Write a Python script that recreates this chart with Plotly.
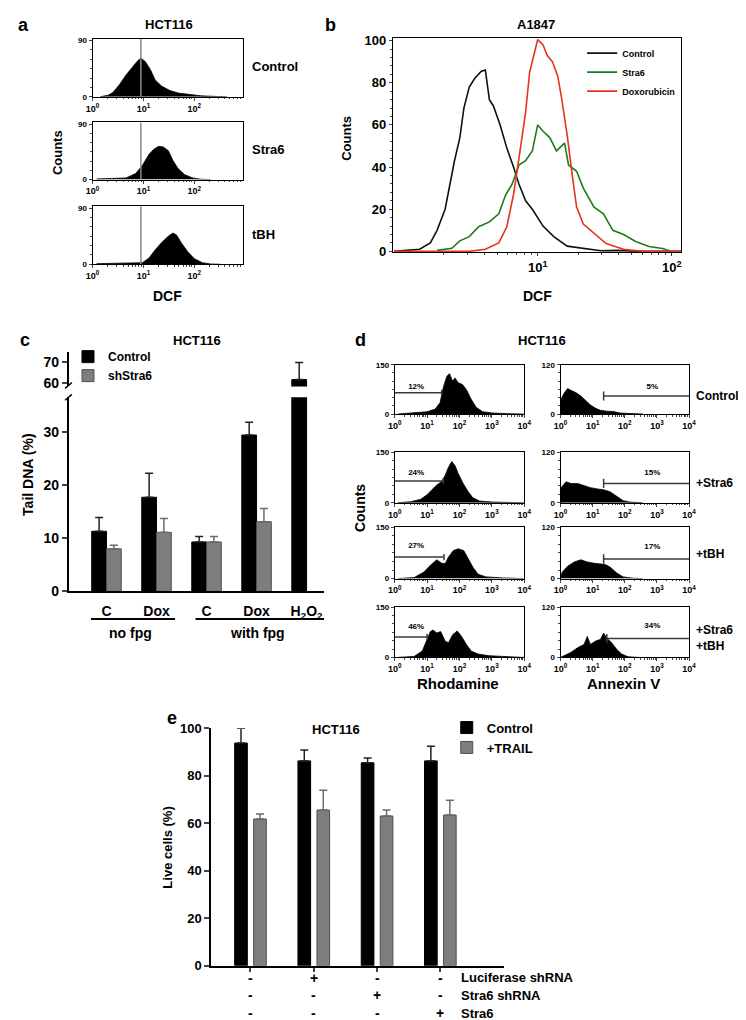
import plotly.graph_objects as go

W, H = 746, 1020
FONT = "Liberation Sans"

# ---------------- DATA ----------------
# Panel a (HCT116, DCF histograms): log10(DCF) and counts
a_ctrl_logdcf = [0.15, 0.31, 0.40, 0.53, 0.66, 0.79, 0.88, 0.95, 1.04, 1.14, 1.23, 1.36, 1.52, 1.68, 1.87, 2.13, 2.45, 2.64]
a_ctrl_counts = [0, 2.6, 6.7, 19.5, 35, 48, 57, 62, 56, 43, 27, 17, 10, 6, 3.6, 1.5, 0.5, 0]
a_stra6_logdcf = [0.08, 0.66, 0.85, 0.98, 1.11, 1.20, 1.30, 1.39, 1.49, 1.58, 1.68, 1.81, 1.97, 2.13, 2.32]
a_stra6_counts = [1, 2.6, 10, 23, 41, 49, 54, 53, 47, 31, 18, 8, 2.6, 0.5, 0]
a_tbh_logdcf = [0.08, 0.98, 1.11, 1.23, 1.36, 1.49, 1.58, 1.65, 1.74, 1.87, 2.00, 2.16, 2.32, 2.51]
a_tbh_counts = [1, 2.5, 10, 23, 35, 45, 50, 47, 35, 20, 9, 2.5, 0.5, 0]
a_gate_logdcf = 0.95
a_row_labels = ["Control", "Stra6", "tBH"]
a_xtick_vals = [1, 10, 100]
a_xtick_text = ["10<sup>0</sup>", "10<sup>1</sup>", "10<sup>2</sup>"]

# Panel b (A1847, DCF overlay)
b_names = ["Control", "Stra6", "Doxorubicin"]
b_ctrl_logdcf = [-0.07, 0.05, 0.12, 0.20, 0.25, 0.31, 0.34, 0.38, 0.42, 0.45, 0.49, 0.53, 0.58, 0.61, 0.64, 0.67, 0.72, 0.77, 0.82, 0.86, 0.91, 0.96, 1.04, 1.12, 1.22, 1.34, 1.47, 1.59, 1.78, 2.07]
b_ctrl_counts = [0, 0.5, 1, 4, 10, 20, 30, 43, 54, 68, 78, 82, 85.5, 86, 72, 69, 60, 49, 40, 32, 24, 20, 12, 7, 2.5, 1.5, 0.3, 0.5, 0, 0]
b_stra6_logdcf = [0.25, 0.36, 0.42, 0.49, 0.56, 0.64, 0.71, 0.76, 0.81, 0.86, 0.91, 0.96, 1.00, 1.04, 1.09, 1.14, 1.20, 1.23, 1.29, 1.34, 1.42, 1.49, 1.56, 1.64, 1.73, 1.83, 1.93, 2.00]
b_stra6_counts = [0.5, 1.5, 5, 7, 11.7, 14, 17.8, 26.6, 32, 41, 43, 47.7, 60, 57, 54, 47.7, 51.4, 41, 38, 30, 21, 17.8, 10, 8, 4.7, 2.3, 1.4, 0]
b_dox_logdcf = [-0.07, 0.49, 0.61, 0.71, 0.77, 0.82, 0.86, 0.91, 0.94, 0.98, 1.00, 1.04, 1.07, 1.11, 1.15, 1.18, 1.22, 1.26, 1.29, 1.34, 1.42, 1.51, 1.64, 1.78, 2.07]
b_dox_counts = [0, 0, 1, 4, 11.7, 27, 44, 66, 85, 96, 100.5, 98, 93, 90, 83, 72, 55, 35, 21, 13, 8.4, 3.7, 1, 0, 0]
b_colors = ["#111111", "#1d7a1d", "#e2341f"]

# Panel c (HCT116, comet assay)
c_ids = ["C_nofpg", "Dox_nofpg", "C_fpg", "Dox_fpg", "H2O2_fpg"]
c_ticktext = ["C", "Dox", "C", "Dox", "H<sub>2</sub>O<sub>2</sub>"]
c_control = [11.3, 17.7, 9.3, 29.4, 61.5]
c_control_err = [2.6, 4.5, 1.0, 2.4, 8.5]
c_shstra6 = [8.0, 11.1, 9.3, 13.1, None]
c_shstra6_err = [0.7, 2.6, 1.0, 2.5, None]
c_series = ["Control", "shStra6"]

# Panel d (HCT116, Rhodamine / Annexin V histograms)
d_rows = ["Control", "+Stra6", "+tBH", "+Stra6<br>+tBH"]
d_rho_log = [
    [0.09, 0.49, 1.0, 1.25, 1.40, 1.51, 1.61, 1.69, 1.79, 1.86, 1.96, 2.09, 2.21, 2.36, 2.52, 2.72, 3.02, 3.53, 3.98],
    [0.09, 0.49, 0.8, 1.0, 1.15, 1.30, 1.45, 1.56, 1.66, 1.76, 1.86, 1.96, 2.11, 2.26, 2.41, 2.62, 3.02, 3.98],
    [0.09, 0.6, 0.9, 1.1, 1.30, 1.45, 1.56, 1.66, 1.81, 1.96, 2.13, 2.26, 2.41, 2.57, 2.82, 3.32, 3.98],
    [0.09, 0.6, 0.85, 1.0, 1.1, 1.18, 1.30, 1.42, 1.56, 1.66, 1.79, 1.93, 2.06, 2.21, 2.36, 2.57, 2.92, 3.53, 3.98],
]
d_rho_counts = [
    [0, 3, 7, 15, 35, 85, 115, 123, 100, 110, 95, 90, 75, 45, 20, 7, 3, 1, 0],
    [0, 3, 10, 24, 39, 53, 63, 82, 106, 123, 111, 87, 58, 34, 15, 5, 2, 0],
    [0, 3, 19, 39, 55, 45, 44, 63, 82, 87, 82, 58, 34, 13, 5, 2, 0],
    [0, 3, 19, 53, 77, 82, 73, 77, 48, 44, 68, 79, 63, 39, 19, 10, 5, 2, 0],
]
d_ann_log = [
    [0.0, 0.01, 0.12, 0.22, 0.32, 0.48, 0.63, 0.78, 0.93, 1.09, 1.24, 1.44, 1.64, 1.85, 2.15, 2.56],
    [0.0, 0.01, 0.17, 0.32, 0.53, 0.73, 0.93, 1.14, 1.34, 1.54, 1.75, 1.95, 2.15, 2.56],
    [0.0, 0.05, 0.22, 0.43, 0.63, 0.83, 1.04, 1.24, 1.39, 1.54, 1.75, 1.95, 2.25, 2.56],
    [0.0, 0.12, 0.32, 0.53, 0.73, 0.83, 0.93, 1.09, 1.24, 1.34, 1.44, 1.59, 1.75, 1.90, 2.10, 2.45],
]
d_ann_counts = [
    [0, 36, 52, 62, 58, 52, 44, 32, 22, 14, 9, 7, 6, 2.4, 0.8, 0],
    [0, 35, 50, 46, 46, 41, 36, 33, 31, 26, 15, 5, 1.5, 0],
    [0, 15, 29, 39, 44, 39, 36, 35, 33, 27, 13, 4, 1, 0],
    [0, 4, 12, 23, 31, 50, 31, 39, 43, 58, 46, 35, 19, 8, 1.5, 0],
]
d_rho_gate_end_log = [1.45, 1.50, 1.52, 1.0]
d_rho_gate_level = [65, 65, 63, 61]
d_rho_pct = ["12%", "24%", "27%", "46%"]
d_rho_pct_level = [83, 90, 94, 92]
d_ann_gate_start_log = [1.34, 1.34, 1.34, 1.44]
d_ann_gate_level = [44, 46, 46, 45]
d_ann_pct = ["5%", "15%", "17%", "34%"]
d_ann_pct_level = [66, 72, 75, 76]
d_xtick_vals = [1, 10, 100, 1000, 10000]
d_xtick_text = ["10<sup>0</sup>", "10<sup>1</sup>", "10<sup>2</sup>", "10<sup>3</sup>", "10<sup>4</sup>"]

# Panel e (HCT116, live cells)
e_ids = ["g1", "g2", "g3", "g4"]
e_control = [93.8, 86.3, 85.5, 86.3]
e_control_err = [6.2, 4.6, 2.0, 6.2]
e_trail = [61.8, 65.6, 63.1, 63.5]
e_trail_err = [2.1, 8.3, 2.5, 6.2]
e_luciferase = ["-", "+", "-", "-"]
e_stra6_sh = ["-", "-", "+", "-"]
e_stra6 = ["-", "-", "-", "+"]
e_row_names = ["Luciferase shRNA", "Stra6 shRNA", "Stra6"]
e_series = ["Control", "+TRAIL"]

# ---------------- HELPERS ----------------
def xd(l, r):
    return [l / W, r / W]

def yd(t, b):
    return [1 - b / H, 1 - t / H]

def fnt(size, color="black"):
    return dict(family=FONT, size=size, color=color, weight="bold")

def ann(text, px, py, size=13, xanchor="center", yanchor="middle", angle=0):
    return dict(text=text, x=px / W, y=1 - py / H, xref="paper", yref="paper",
                showarrow=False, xanchor=xanchor, yanchor=yanchor, textangle=angle,
                align=xanchor if xanchor != "center" else "center",
                font=fnt(size))

def xn(n):
    return "x" if n == 1 else f"x{n}"

def yn(n):
    return "y" if n == 1 else f"y{n}"

def xk(n):
    return "xaxis" if n == 1 else f"xaxis{n}"

def yk(n):
    return "yaxis" if n == 1 else f"yaxis{n}"

fig = go.Figure()
layout = {}
annotations = []
shapes = []

minor_log = [m * 10 ** k for k in range(0, 4) for m in range(2, 10)]

def hist_axes(n, xdom, ydom, xrng, yrng, ymax, xtv, xtt, tsize=9):
    layout[xk(n)] = dict(type="log", domain=xdom, range=xrng, anchor=yn(n),
                         showline=True, mirror=True, linecolor="black", linewidth=1,
                         ticks="outside", ticklen=3, tickwidth=1, tickvals=xtv, ticktext=xtt,
                         tickfont=fnt(tsize), showgrid=False, zeroline=False,
                         minor=dict(ticks="outside", ticklen=1.5, tickvals=minor_log, tickcolor="#444"))
    layout[yk(n)] = dict(domain=ydom, range=yrng, anchor=xn(n),
                         showline=True, mirror=True, linecolor="black", linewidth=1,
                         ticks="outside", ticklen=3, tickvals=[0, ymax], ticktext=[str(0), str(ymax)],
                         tickfont=fnt(tsize - 1), showgrid=False, zeroline=False,
                         minor=dict(ticks="outside", ticklen=1.5, dtick=ymax / 6, tickcolor="#444"))

def add_hist(n, logs, counts):
    fig.add_trace(go.Scatter(x=[10 ** v for v in logs], y=counts, mode="lines",
                             fill="tozeroy", fillcolor="black",
                             line=dict(color="black", width=0.8),
                             xaxis=xn(n), yaxis=yn(n), showlegend=False, hoverinfo="skip"))

# ---------------- PANEL A ----------------
a_rows_px = [(24, 83), (109, 167), (194, 253)]
a_data = [(a_ctrl_logdcf, a_ctrl_counts), (a_stra6_logdcf, a_stra6_counts), (a_tbh_logdcf, a_tbh_counts)]
for i, ((t, b), (lg, ct)) in enumerate(zip(a_rows_px, a_data)):
    n = 1 + i
    hist_axes(n, xd(79, 232), yd(t, b), [0, 2.95], [0, 93], 90, a_xtick_vals, a_xtick_text, 9)
    add_hist(n, lg, ct)
    fig.add_trace(go.Scatter(x=[10 ** a_gate_logdcf] * 2, y=[0, 93], mode="lines",
                             line=dict(color="#8a8a8a", width=1.5),
                             xaxis=xn(n), yaxis=yn(n), showlegend=False, hoverinfo="skip"))
    annotations.append(ann(a_row_labels[i], 240, (t + b) / 2 - 1, 13, xanchor="left"))
annotations += [
    ann("a", 9, 10, 18),
    ann("HCT116", 157, 10, 13),
    ann("Counts", 44, 140, 13, angle=-90),
    ann("DCF", 155, 285, 14),
]

# ---------------- PANEL B ----------------
nb = 4
layout[xk(nb)] = dict(type="log", domain=xd(385, 679), range=[-0.08, 2.07], anchor=yn(nb),
                      showline=True, mirror=True, linecolor="black", linewidth=1,
                      ticks="outside", ticklen=3, tickvals=[10, 100],
                      ticktext=["10<sup>1</sup>", "10<sup>2</sup>"], tickfont=fnt(13),
                      showgrid=False, zeroline=False,
                      minor=dict(ticks="outside", ticklen=2, tickvals=minor_log, tickcolor="#444"))
layout[yk(nb)] = dict(domain=yd(23, 241), range=[-0.5, 101.4], anchor=xn(nb),
                      showline=True, mirror=True, linecolor="black", linewidth=1,
                      ticks="outside", ticklen=3, tickvals=[0, 20, 40, 60, 80, 100],
                      tickfont=fnt(13), showgrid=False, zeroline=False,
                      minor=dict(ticks="outside", ticklen=2, dtick=4, tickcolor="#444"))
for name, lg, ct, col in zip(b_names, [b_ctrl_logdcf, b_stra6_logdcf, b_dox_logdcf],
                             [b_ctrl_counts, b_stra6_counts, b_dox_counts], b_colors):
    fig.add_trace(go.Scatter(x=[10 ** v for v in lg], y=ct, mode="lines", name=name,
                             line=dict(color=col, width=1.6),
                             xaxis=xn(nb), yaxis=yn(nb), legend="legend"))
annotations += [
    ann("b", 322, 10, 18),
    ann("A1847", 531, 10, 13),
    ann("Counts", 338, 125, 13, angle=-90),
    ann("DCF", 533, 285, 14),
]

# ---------------- PANEL C ----------------
nc, nu = 5, 6
c_xrange = [-0.75, 4.35]
layout[xk(nc)] = dict(type="category", domain=xd(55, 315), range=c_xrange, anchor=yn(nc),
                      showline=True, linecolor="black", linewidth=2, ticks="",
                      tickvals=c_ids, ticktext=c_ticktext, tickfont=fnt(14),
                      ticklabelstandoff=6, showgrid=False, zeroline=False,
                      categoryorder="array", categoryarray=c_ids)
layout[yk(nc)] = dict(domain=yd(388, 585), range=[0, 36.5], anchor=xn(nc),
                      showline=True, linecolor="black", linewidth=2, ticks="outside",
                      ticklen=5, tickwidth=2, tickvals=[0, 10, 20, 30], tickfont=fnt(14),
                      showgrid=False, zeroline=False)
layout[xk(nu)] = dict(type="category", domain=xd(55, 315), range=c_xrange, anchor=yn(nu),
                      visible=False, categoryorder="array", categoryarray=c_ids)
layout[yk(nu)] = dict(domain=yd(342, 377), range=[58.1, 75.2], anchor=xn(nu),
                      showline=True, linecolor="black", linewidth=2, ticks="outside",
                      ticklen=5, tickwidth=2, tickvals=[60, 70], tickfont=fnt(14),
                      showgrid=False, zeroline=False)
c_fill = ["#000000", "#7d7d7d"]
c_line = ["#000000", "#505050"]
c_errc = ["#222222", "#6a6a6a"]
for (xa, ya, show) in [(nc, nc, True), (nu, nu, False)]:
    for k, (vals, errs) in enumerate([(c_control, c_control_err), (c_shstra6, c_shstra6_err)]):
        fig.add_trace(go.Bar(x=c_ids, y=vals, name=c_series[k],
                             marker=dict(color=c_fill[k], line=dict(color=c_line[k], width=1)),
                             error_y=dict(type="data", array=errs, arrayminus=[0] * len(errs),
                                          symmetric=False, color=c_errc[k], thickness=1.5, width=4),
                             xaxis=xn(xa), yaxis=yn(ya), showlegend=show, legend="legend2"))
for x0, x1 in [(-0.31, 1.37), (1.78, 4.35)]:
    shapes.append(dict(type="line", xref=xn(nc), yref="paper", x0=x0, x1=x1,
                       y0=1 - 613 / H, y1=1 - 613 / H, line=dict(color="black", width=2)))
# axis break slashes
for yb in (376, 388):
    shapes.append(dict(type="line", xref="paper", yref="paper", x0=51 / W, x1=58 / W,
                       y0=1 - (yb + 3) / H, y1=1 - (yb - 3) / H, line=dict(color="black", width=1.5)))
annotations += [
    ann("c", 10, 330, 18),
    ann("HCT116", 185, 330, 13),
    ann("Tail DNA (%)", 13, 467, 14, angle=-90),
    ann("no fpg", 118, 627, 14),
    ann("with fpg", 247, 627, 14),
]

# ---------------- PANEL D ----------------
d_rows_px = [(355, 405), (444, 495), (520, 572), (601, 652)]
d_label_y = [387, 475, 547, 632]
for r, (t, b) in enumerate(d_rows_px):
    nl = 7 + 2 * r
    nr = 8 + 2 * r
    hist_axes(nl, xd(387, 519), yd(t, b), [0, 4], [0, 150], 150, d_xtick_vals, d_xtick_text, 9)
    hist_axes(nr, xd(556, 687), yd(t, b), [0, 4], [0, 120], 120, d_xtick_vals, d_xtick_text, 9)
    add_hist(nl, d_rho_log[r], d_rho_counts[r])
    add_hist(nr, d_ann_log[r], d_ann_counts[r])
    # gates
    ge = 10 ** d_rho_gate_end_log[r]
    gl = d_rho_gate_level[r]
    fig.add_trace(go.Scatter(x=[1, ge, None, ge, ge], y=[gl, gl, None, gl - 9, gl + 9],
                             mode="lines", line=dict(color="#3a3a3a", width=1.5),
                             xaxis=xn(nl), yaxis=yn(nl), showlegend=False, hoverinfo="skip"))
    fig.add_trace(go.Scatter(x=[4.6], y=[d_rho_pct_level[r]], mode="text", text=[d_rho_pct[r]],
                             textfont=fnt(8), xaxis=xn(nl), yaxis=yn(nl),
                             showlegend=False, hoverinfo="skip"))
    gs = 10 ** d_ann_gate_start_log[r]
    gl2 = d_ann_gate_level[r]
    fig.add_trace(go.Scatter(x=[gs, 10000, None, gs, gs], y=[gl2, gl2, None, gl2 - 11, gl2 + 11],
                             mode="lines", line=dict(color="#3a3a3a", width=1.5),
                             xaxis=xn(nr), yaxis=yn(nr), showlegend=False, hoverinfo="skip"))
    fig.add_trace(go.Scatter(x=[720], y=[d_ann_pct_level[r]], mode="text", text=[d_ann_pct[r]],
                             textfont=fnt(8), xaxis=xn(nr), yaxis=yn(nr),
                             showlegend=False, hoverinfo="skip"))
    annotations.append(ann(d_rows[r], 692, d_label_y[r], 12, xanchor="left"))
annotations += [
    ann("d", 352, 330, 18),
    ann("HCT116", 537, 330, 13),
    ann("Counts", 351, 500, 14, angle=-90),
    ann("Rhodamine", 451, 678, 15),
    ann("Annexin V", 620, 678, 15),
]

# ---------------- PANEL E ----------------
ne = 15
layout[xk(ne)] = dict(type="category", domain=xd(200, 498), range=[-0.62, 4.0], anchor=yn(ne),
                      showline=True, linecolor="black", linewidth=2, ticks="outside",
                      ticklen=4, tickwidth=1.5, tickvals=e_ids, showticklabels=False,
                      showgrid=False, zeroline=False,
                      categoryorder="array", categoryarray=e_ids)
layout[yk(ne)] = dict(domain=yd(724, 965), range=[0, 100], anchor=xn(ne),
                      showline=True, linecolor="black", linewidth=2, ticks="outside",
                      ticklen=5, tickwidth=2, tickvals=[0, 20, 40, 60, 80, 100], tickfont=fnt(13),
                      showgrid=False, zeroline=False)
for k, (vals, errs, off) in enumerate([(e_control, e_control_err, -0.25), (e_trail, e_trail_err, 0.05)]):
    fig.add_trace(go.Bar(x=e_ids, y=vals, name=e_series[k], width=0.2, offset=off,
                         marker=dict(color=c_fill[k], line=dict(color=c_line[k], width=1)),
                         error_y=dict(type="data", array=errs, arrayminus=[0] * len(errs),
                                      symmetric=False, color=c_errc[k], thickness=1.5, width=4),
                         xaxis=xn(ne), yaxis=yn(ne), legend="legend3"))
for i, (name, signs) in enumerate(zip(e_row_names, [e_luciferase, e_stra6_sh, e_stra6])):
    ypx = 977 + 18 * i
    annotations.append(ann(name, 452, ypx, 13, xanchor="left"))
    for gid, s in zip(e_ids, signs):
        annotations.append(dict(text=s, x=gid, y=1 - ypx / H, xref=xn(ne), yref="paper",
                                showarrow=False, xanchor="center", yanchor="middle",
                                font=fnt(14)))
annotations += [
    ann("e", 160, 713, 18),
    ann("HCT116", 327, 725, 13),
    ann("Live cells (%)", 156, 845, 13, angle=-90),
]

fig.update_layout(
    width=W, height=H, margin=dict(l=0, r=0, t=0, b=0),
    paper_bgcolor="white", plot_bgcolor="white",
    font=fnt(12),
    barmode="group", bargap=0.41, bargroupgap=0,
    showlegend=True,
    legend=dict(x=578 / W, y=1 - 24 / H, xanchor="left", yanchor="top", font=fnt(9),
                bgcolor="rgba(0,0,0,0)", itemwidth=30, tracegroupgap=0),
    legend2=dict(x=54 / W, y=1 - 332 / H, xanchor="left", yanchor="top", font=fnt(12),
                 bgcolor="rgba(0,0,0,0)", itemwidth=30, tracegroupgap=0),
    legend3=dict(x=440 / W, y=1 - 708 / H, xanchor="left", yanchor="top", font=fnt(13),
                 bgcolor="rgba(0,0,0,0)", itemwidth=30, tracegroupgap=0),
    annotations=annotations, shapes=shapes,
    **layout,
)

fig.write_html("out.html")
